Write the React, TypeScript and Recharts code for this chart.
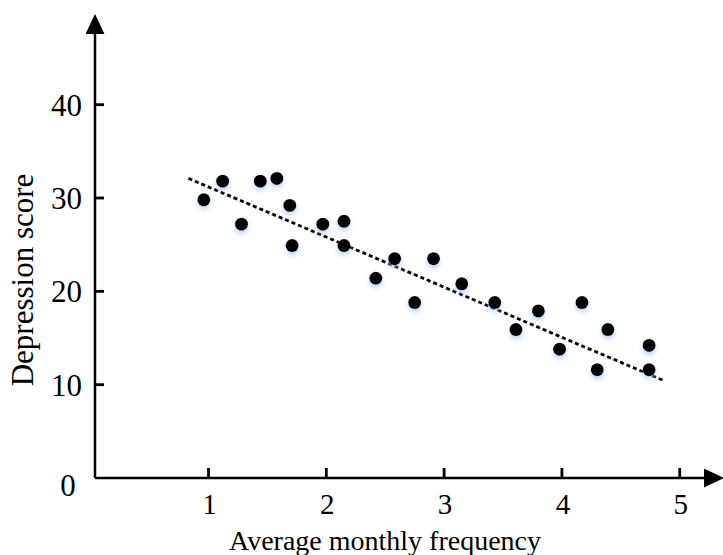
import { Label, Scatter, ScatterChart, XAxis, YAxis } from "recharts";

const SERIF = '"Liberation Serif", "Times New Roman", serif';

// average monthly frequency / depression score, one entry per participant
const frequency = [
  0.96, 1.12, 1.28, 1.44, 1.58, 1.69, 1.71, 1.97, 2.15, 2.15, 2.42, 2.58,
  2.75, 2.91, 3.15, 3.43, 3.61, 3.8, 3.98, 4.17, 4.3, 4.39, 4.74, 4.74,
];
const depression = [
  29.8, 31.8, 27.2, 31.8, 32.1, 29.2, 24.9, 27.2, 27.5, 24.9, 21.4, 23.5,
  18.8, 23.5, 20.8, 18.8, 15.9, 17.9, 13.8, 18.8, 11.6, 15.9, 14.2, 11.6,
];

// fitted trend line end points
const trendX = [0.83, 4.87];
const trendY = [32.1, 10.4];

const xTicks = [1, 2, 3, 4, 5];
const yTicks = [0, 10, 20, 30, 40];

const points = frequency.map((x, i) => ({ x, y: depression[i] }));
const trend = trendX.map((x, i) => ({ x, y: trendY[i] }));

// ticks point inwards, drawn by the tick components
function XTick({ x, y, payload }: any) {
  return (
    <g>
      <rect x={x - 1.4} y={y - 10} width={2.8} height={10} fill="#000" />
      <text
        x={x + 1}
        y={y + 36}
        textAnchor="middle"
        fontSize={29}
        fontFamily={SERIF}
        fill="#000"
      >
        {payload.value}
      </text>
    </g>
  );
}

function YTick({ x, y, payload }: any) {
  // the zero label sits under the corner, not next to a tick
  if (payload.value === 0) {
    return (
      <text
        x={x - 27}
        y={y + 18}
        textAnchor="middle"
        fontSize={31}
        fontFamily={SERIF}
        fill="#000"
      >
        0
      </text>
    );
  }
  return (
    <g>
      <rect x={x} y={y - 1.4} width={9} height={2.8} fill="#000" />
      <text
        x={x - 13}
        y={y + 11}
        textAnchor="end"
        fontSize={31}
        fontFamily={SERIF}
        fill="#000"
      >
        {payload.value}
      </text>
    </g>
  );
}

function Dot({ cx, cy }: any) {
  return <circle cx={cx} cy={cy} r={6.5} fill="#000" filter="url(#dotGlow)" />;
}

export default function App() {
  return (
    <div style={{ position: "absolute", left: 0, top: 0 }}>
      <svg width={0} height={0} style={{ position: "absolute" }}>
        <defs>
          <marker
            id="arrowHead"
            markerUnits="userSpaceOnUse"
            markerWidth={20}
            markerHeight={19}
            refX={4}
            refY={9.5}
            orient="auto-start-reverse"
          >
            <path d="M0,0 L20,9.5 L0,19 z" fill="#000" />
          </marker>
          <filter id="dotGlow" x="-100%" y="-100%" width="300%" height="300%">
            <feDropShadow
              dx={0}
              dy={3}
              stdDeviation={2.5}
              floodColor="#9fc2ec"
              floodOpacity={0.7}
            />
          </filter>
        </defs>
      </svg>
      <ScatterChart
        width={723}
        height={555}
        margin={{ top: 30, right: 15, bottom: 0, left: 0 }}
      >
        <XAxis
          type="number"
          dataKey="x"
          domain={[0.0365, 5.24]}
          ticks={xTicks}
          interval={0}
          height={77}
          tickSize={0}
          tickMargin={0}
          tickLine={false}
          tick={<XTick />}
          axisLine={{ stroke: "#000", strokeWidth: 2.5, markerEnd: "url(#arrowHead)" }}
        >
          <Label
            content={({ viewBox }: any) => (
              <text
                x={viewBox.x + 290}
                y={viewBox.y + 72}
                textAnchor="middle"
                fontSize={28}
                fontFamily={SERIF}
                fill="#000"
              >
                Average monthly frequency
              </text>
            )}
          />
        </XAxis>
        <YAxis
          type="number"
          dataKey="y"
          domain={[0, 48]}
          ticks={yTicks}
          interval={0}
          width={95}
          tickSize={0}
          tickMargin={0}
          tickLine={false}
          tick={<YTick />}
          axisLine={{ stroke: "#000", strokeWidth: 2.5, markerStart: "url(#arrowHead)" }}
        >
          <Label
            content={({ viewBox }: any) => (
              <text
                x={33}
                y={viewBox.y + 250}
                transform={`rotate(-90 33 ${viewBox.y + 250})`}
                textAnchor="middle"
                fontSize={31}
                fontFamily={SERIF}
                fill="#000"
              >
                Depression score
              </text>
            )}
          />
        </YAxis>
        <Scatter
          data={trend}
          line={{ stroke: "#000", strokeWidth: 2.8, strokeDasharray: "4 3" }}
          shape={() => <g />}
          isAnimationActive={false}
        />
        <Scatter data={points} shape={<Dot />} isAnimationActive={false} />
      </ScatterChart>
    </div>
  );
}
